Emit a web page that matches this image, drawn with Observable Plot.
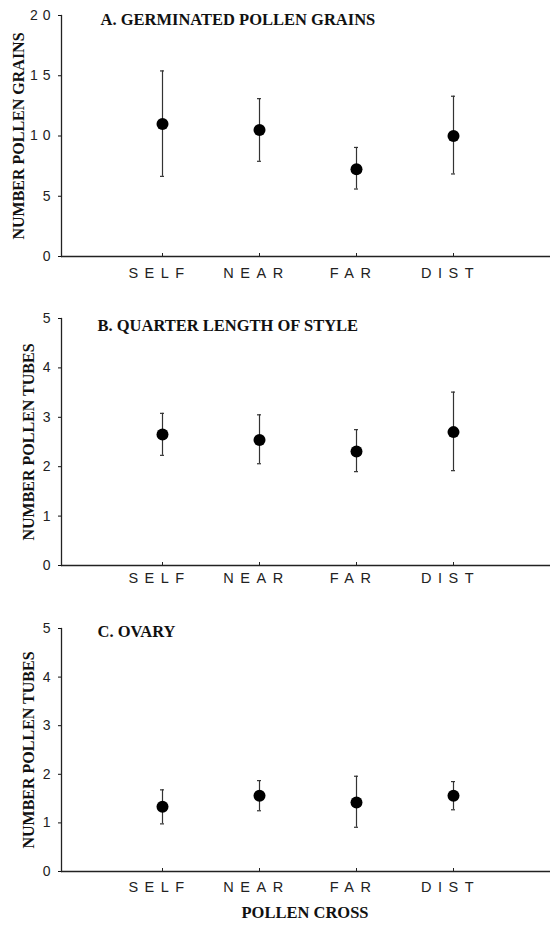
<!DOCTYPE html>
<html>
<head>
<meta charset="utf-8">
<script src="https://cdn.jsdelivr.net/npm/d3@7"></script>
<script src="https://cdn.jsdelivr.net/npm/@observablehq/plot@0.6"></script>
<style>
  html, body { margin: 0; padding: 0; background: #fff; }
  #chart { width: 550px; }
  #chart svg { display: block; }
  #chart g[aria-label="x-axis tick label"] { letter-spacing: 6.5px; }
  #chart g[aria-label="y-axis tick label"] { letter-spacing: 5px; }
  #xtitle { height: 32px; padding-left: 60px; text-align: center; font: bold 16.5px "Liberation Serif", serif; color: #111; line-height: 36px; }
</style>
</head>
<body>
<div id="chart"></div>
<div id="xtitle">POLLEN CROSS</div>
<script>
const categories = ["SELF", "NEAR", "FAR", "DIST"];

const aMean = [11.0, 10.5, 7.25, 10.0];
const aLow  = [6.65, 7.9, 5.6, 6.85];
const aHigh = [15.4, 13.1, 9.05, 13.3];

const bMean = [2.65, 2.54, 2.31, 2.70];
const bLow  = [2.23, 2.06, 1.90, 1.92];
const bHigh = [3.08, 3.05, 2.75, 3.51];

const cMean = [1.33, 1.56, 1.42, 1.56];
const cLow  = [0.98, 1.25, 0.91, 1.27];
const cHigh = [1.68, 1.87, 1.96, 1.85];

const aTicks = [0, 5, 10, 15, 20];
const bcTicks = [0, 1, 2, 3, 4, 5];

function rows(mean, low, high) {
  return categories.map((c, i) => ({cat: c, mean: mean[i], low: low[i], high: high[i]}));
}

function panel(o) {
  const data = rows(o.mean, o.low, o.high);
  const y0 = o.yDomain[0];
  return Plot.plot({
    width: 550,
    height: o.height,
    marginLeft: 61,
    marginRight: 0,
    marginTop: o.marginTop,
    marginBottom: o.marginBottom,
    style: {background: "#fff", color: "#111"},
    x: {type: "point", domain: categories, range: [161, 453], padding: 0},
    y: {domain: o.yDomain},
    marks: [
      Plot.ruleY([y0], {stroke: "#222", strokeWidth: 1.3}),
      Plot.frame({anchor: "left", stroke: "#222", strokeWidth: 1.3}),
      Plot.ruleX(data, {x: "cat", y1: y0, y2: y0, insetTop: -3, stroke: "#222", strokeWidth: 1}),
      Plot.axisY({ticks: o.yTicks, tickFormat: "d", tickSize: 3, tickPadding: 3, label: null,
        fontFamily: "Liberation Sans, sans-serif", fontSize: 14, fill: "#222"}),
      Plot.axisX({tickSize: 0, tickPadding: o.xPad, dx: -3, label: null,
        fontFamily: "Liberation Sans, sans-serif", fontSize: 14.5, fill: "#222"}),
      Plot.text([o.ylabel], {text: d => d, frameAnchor: "left", textAnchor: "middle", rotate: -90, dx: o.ylabelDx,
        fontFamily: "Liberation Serif, serif", fontWeight: "bold", fontSize: 16, fill: "#111"}),
      Plot.text([o.title], {text: d => d, frameAnchor: "top-left", textAnchor: "start", lineAnchor: "top",
        dx: o.titleDx, dy: o.titleDy, fontFamily: "Liberation Serif, serif", fontWeight: "bold", fontSize: 16.5, fill: "#111"}),
      Plot.ruleX(data, {x: "cat", y1: "low", y2: "high", stroke: "#333", strokeWidth: 1.2}),
      Plot.ruleY(data, {y: "low", x1: "cat", x2: "cat", insetLeft: -2, insetRight: -2, stroke: "#333", strokeWidth: 1.2}),
      Plot.ruleY(data, {y: "high", x1: "cat", x2: "cat", insetLeft: -2, insetRight: -2, stroke: "#333", strokeWidth: 1.2}),
      Plot.dot(data, {x: "cat", y: "mean", r: 6, fill: "#000", stroke: "none"})
    ]
  });
}

const chart = document.getElementById("chart");
chart.append(panel({
  title: "A. GERMINATED POLLEN GRAINS", ylabel: "NUMBER POLLEN GRAINS",
  mean: aMean, low: aLow, high: aHigh, yDomain: [0, 20], yTicks: aTicks,
  height: 295, marginTop: 15, marginBottom: 39, ylabelDx: -43, xPad: 11, titleDx: 39, titleDy: -2
}));
chart.append(panel({
  title: "B. QUARTER LENGTH OF STYLE", ylabel: "NUMBER POLLEN TUBES",
  mean: bMean, low: bLow, high: bHigh, yDomain: [0, 5], yTicks: bcTicks,
  height: 310, marginTop: 23, marginBottom: 40, ylabelDx: -33, xPad: 7, titleDx: 36, titleDy: 1
}));
chart.append(panel({
  title: "C. OVARY", ylabel: "NUMBER POLLEN TUBES",
  mean: cMean, low: cLow, high: cHigh, yDomain: [0, 5], yTicks: bcTicks,
  height: 290, marginTop: 23, marginBottom: 24, ylabelDx: -33, xPad: 10, titleDx: 36, titleDy: -3
}));
</script>
</body>
</html>
